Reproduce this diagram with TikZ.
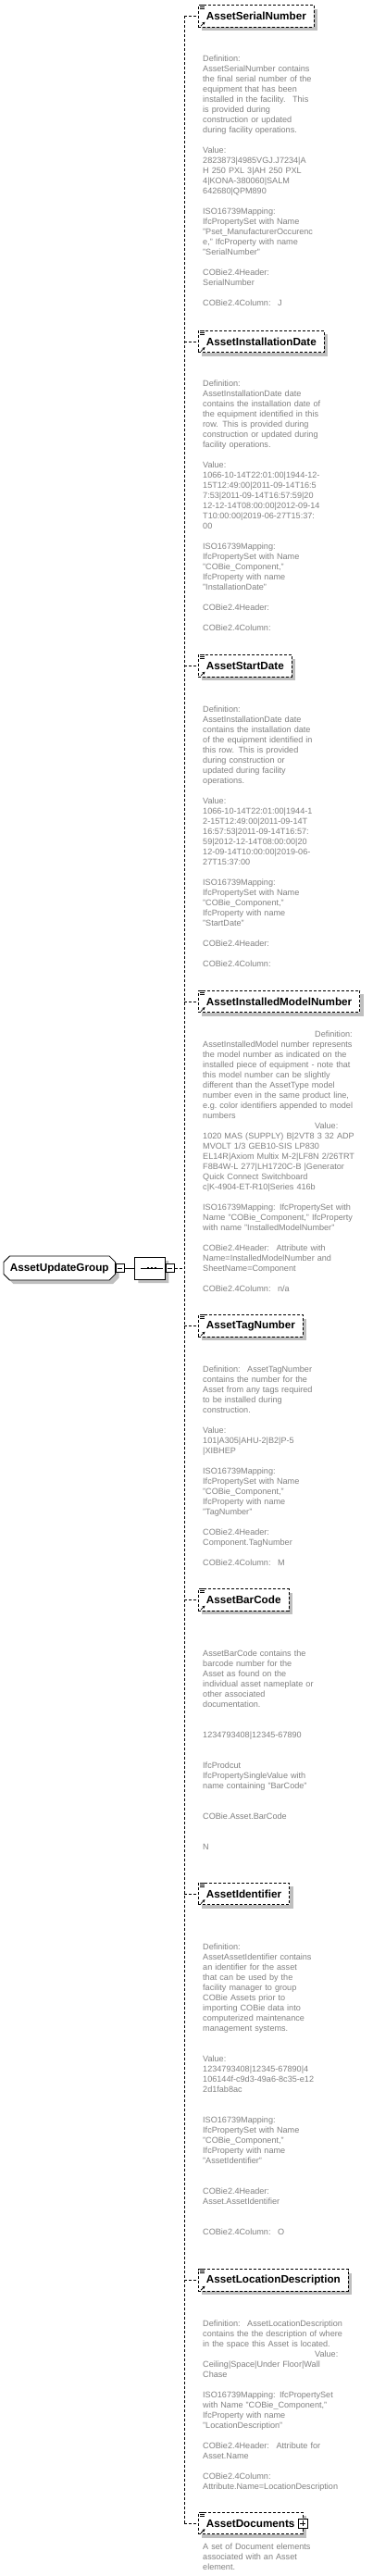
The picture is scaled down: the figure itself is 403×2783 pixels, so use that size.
\documentclass[tikz,border=0pt]{standalone}
\usepackage{fontspec}
\setmainfont{Liberation Sans}
\usetikzlibrary{shapes.misc, shadows, arrows.meta}

\begin{document}
\begin{tikzpicture}[
    x=1pt, y=-1pt,
    % Define node styles
    boxshadow/.style={
        drop shadow={shadow xshift=4pt, shadow yshift=-4pt,
                     fill=black!25, opacity=1, draw=none}
    },
    elem/.style={
        rectangle,
        draw,
        dash pattern=on 3pt off 2pt,
        line width=0.8pt,
        fill=white,
        anchor=west,
        minimum height=23.5pt,
        inner xsep=8.5pt,
        inner ysep=0pt,
        font=\bfseries\fontsize{11.7}{14}\selectfont,
        boxshadow
    },
    grp/.style={
        chamfered rectangle,
        chamfered rectangle xsep=3pt,
        draw,
        line width=0.8pt,
        fill=white,
        minimum height=26pt,
        inner xsep=4pt,
        font=\bfseries\fontsize{11.7}{14}\selectfont,
        boxshadow
    },
    compositor/.style={
        chamfered rectangle,
        chamfered rectangle xsep=3pt,
        draw,
        line width=0.8pt,
        fill=white,
        minimum width=33pt,
        minimum height=24pt,
        inner sep=0pt,
        boxshadow
    },
    minusbox/.style={
        rectangle,
        draw,
        line width=0.8pt,
        fill=white,
        minimum size=9pt,
        inner sep=0pt,
        path picture={
            \draw[line width=0.9pt] ([xshift=2pt]path picture bounding box.west)
                -- ([xshift=-2pt]path picture bounding box.east);
        }
    },
    plusbox/.style={
        minusbox,
        minimum size=10pt,
        path picture={
            \draw[line width=0.9pt] ([xshift=2pt]path picture bounding box.west)
                -- ([xshift=-2pt]path picture bounding box.east);
            \draw[line width=0.9pt] ([yshift=-2pt]path picture bounding box.north)
                -- ([yshift=2pt]path picture bounding box.south);
        }
    },
    doc/.style={
        anchor=base west,
        align=left,
        text width=178pt,
        inner sep=0pt,
        text=black!50,
        font=\fontsize{9.1}{11}\selectfont
    },
    conn/.style={draw, line width=0.8pt, dash pattern=on 3pt off 2pt},
    icon/.style={draw, line width=0.8pt}
]
    \useasboundingbox (0,0) rectangle (403,2783);

    % Group and sequence compositor
    \node[grp, anchor=east] (group) at (125,1370) {AssetUpdateGroup};
    \node[minusbox, anchor=west] (groupminus) at (group.east) {};
    \node[compositor, anchor=west] (seq) at (145,1370) {};
    \node[minusbox, anchor=west] (seqminus) at (seq.east) {};
    % Sequence symbol
    \draw[line width=0.8pt] (152,1370) -- (176,1370);
    \foreach \dx in {158.5,162.5,166.5}
        \fill (\dx,1368.7) rectangle ++(2.6,2.6);

    \draw[line width=0.8pt] (groupminus.east) -- (seq.west);
    \coordinate (spine) at (199,0);

    % Child elements
    \node[elem] (serial) at (214,17.5) {AssetSerialNumber};
    \node[elem] (instdate) at (214,369) {AssetInstallationDate};
    \node[elem] (startdate) at (214,719.5) {AssetStartDate};
    \node[elem] (model) at (214,1082) {AssetInstalledModelNumber};
    \node[elem] (tag) at (214,1432.5) {AssetTagNumber};
    \node[elem] (barcode) at (214,1728.5) {AssetBarCode};
    \node[elem] (ident) at (214,2046) {AssetIdentifier};
    \node[elem] (location) at (214,2463.5) {AssetLocationDescription};
    \node[elem] (documents) at (214,2726) {AssetDocuments\hspace{4.5pt}};
    \node[plusbox] (docplus) at (documents.east) {};

    % Connectors
    \draw[conn] (seqminus.east) -- (seqminus.east -| spine);
    \draw[conn] (serial.west -| spine) -- (documents.west -| spine);
    \foreach \e in {serial,instdate,startdate,model,tag,barcode,ident,location,documents} {
        \draw[conn] (\e.west -| spine) -- (\e.west);
        % Documentation and reference icons
        \draw[icon] ([shift={(2,0.5)}]\e.north west) -- ++(5,0)
                    ([shift={(2,2.5)}]\e.north west) -- ++(5,0)
                    ([shift={(2,4.5)}]\e.north west) -- ++(5,0);
        \draw[icon, -{Stealth[length=3pt,width=3.2pt]}]
            ([shift={(3,-1.5)}]\e.south west) -- ++(4.5,-4.5);
    }

    % Documentation texts
    \node[doc] (serialtxt) at (219,66.5) {Definition:\\
        AssetSerialNumber contains\\
        the final serial number of the\\
        equipment that has been\\
        installed in the facility.~ This\\
        is provided during\\
        construction or updated\\
        during facility operations.\\[11pt]
        Value:\\
        2823873|4985VGJ.J7234|A\\
        H 250 PXL 3|AH 250 PXL\\
        4|KONA-380060|SALM\\
        642680|QPM890\\[11pt]
        ISO16739Mapping:\\
        IfcPropertySet with Name\\
        "Pset\_ManufacturerOccurenc\\
        e," IfcProperty with name\\
        "SerialNumber"\\[11pt]
        COBie2.4Header:\\
        SerialNumber\\[11pt]
        COBie2.4Column:~ J};

    \node[doc] (instdatetxt) at (219,417.5) {Definition:\\
        AssetInstallationDate date\\
        contains the installation date of\\
        the equipment identified in this\\
        row. This is provided during\\
        construction or updated during\\
        facility operations.\\[11pt]
        Value:\\
        1066-10-14T22:01:00|1944-12-\\
        15T12:49:00|2011-09-14T16:5\\
        7:53|2011-09-14T16:57:59|20\\
        12-12-14T08:00:00|2012-09-14\\
        T10:00:00|2019-06-27T15:37:\\
        00\\[11pt]
        ISO16739Mapping:\\
        IfcPropertySet with Name\\
        "COBie\_Component,"\\
        IfcProperty with name\\
        "InstallationDate"\\[11pt]
        COBie2.4Header:\\[11pt]
        COBie2.4Column:};

    \node[doc] (startdatetxt) at (219,769.5) {Definition:\\
        AssetInstallationDate date\\
        contains the installation date\\
        of the equipment identified in\\
        this row. This is provided\\
        during construction or\\
        updated during facility\\
        operations.\\[11pt]
        Value:\\
        1066-10-14T22:01:00|1944-1\\
        2-15T12:49:00|2011-09-14T\\
        16:57:53|2011-09-14T16:57:\\
        59|2012-12-14T08:00:00|20\\
        12-09-14T10:00:00|2019-06-\\
        27T15:37:00\\[11pt]
        ISO16739Mapping:\\
        IfcPropertySet with Name\\
        "COBie\_Component,"\\
        IfcProperty with name\\
        "StartDate"\\[11pt]
        COBie2.4Header:\\[11pt]
        COBie2.4Column:};

    \node[doc] (modeltxt) at (219,1120.5) {\hspace*{121pt}Definition:\\
        AssetInstalledModel number represents\\
        the model number as indicated on the\\
        installed piece of equipment - note that\\
        this model number can be slightly\\
        different than the AssetType model\\
        number even in the same product line,\\
        e.g.\ color identifiers appended to model\\
        numbers\\
        \hspace*{121pt}Value:\\
        1020 MAS (SUPPLY) B|2VT8 3 32 ADP\\
        MVOLT 1/3 GEB10-SIS LP830\\
        EL14R|Axiom Multix M-2|LF8N 2/26TRT\\
        F8B4W-L 277|LH1720C-B |Generator\\
        Quick Connect Switchboard\\
        c|K-4904-ET-R10|Series 416b\\[11pt]
        ISO16739Mapping: IfcPropertySet with\\
        Name "COBie\_Component," IfcProperty\\
        with name "InstalledModelNumber"\\[11pt]
        COBie2.4Header:~ Attribute with\\
        Name=InstalledModelNumber and\\
        SheetName=Component\\[11pt]
        COBie2.4Column:~ n/a};

    \node[doc] (tagtxt) at (219,1482.5) {Definition:~ AssetTagNumber\\
        contains the number for the\\
        Asset from any tags required\\
        to be installed during\\
        construction.\\[11pt]
        Value:\\
        101|A305|AHU-2|B2|P-5\\
        |XIBHEP\\[11pt]
        ISO16739Mapping:\\
        IfcPropertySet with Name\\
        "COBie\_Component,"\\
        IfcProperty with name\\
        "TagNumber"\\[11pt]
        COBie2.4Header:\\
        Component.TagNumber\\[11pt]
        COBie2.4Column:~ M};

    \node[doc] (barcodetxt) at (219,1789.5) {AssetBarCode contains the\\
        barcode number for the\\
        Asset as found on the\\
        individual asset nameplate or\\
        other associated\\
        documentation.\\[22pt]
        1234793408|12345-67890\\[22pt]
        IfcProdcut\\
        IfcPropertySingleValue with\\
        name containing "BarCode"\\[22pt]
        COBie.Asset.BarCode\\[22pt]
        N};

    \node[doc] (identtxt) at (219,2106.5) {Definition:\\
        AssetAssetIdentifier contains\\
        an identifier for the asset\\
        that can be used by the\\
        facility manager to group\\
        COBie Assets prior to\\
        importing COBie data into\\
        computerized maintenance\\
        management systems.\\[22pt]
        Value:\\
        1234793408|12345-67890|4\\
        106144f-c9d3-49a6-8c35-e12\\
        2d1fab8ac\\[22pt]
        ISO16739Mapping:\\
        IfcPropertySet with Name\\
        "COBie\_Component,"\\
        IfcProperty with name\\
        "AssetIdentifier"\\[22pt]
        COBie2.4Header:\\
        Asset.AssetIdentifier\\[22pt]
        COBie2.4Column:~ O};

    \node[doc] (locationtxt) at (219,2513.5) {Definition:~ AssetLocationDescription\\
        contains the the description of where\\
        in the space this Asset is located.\\
        \hspace*{121pt}Value:\\
        Ceiling|Space|Under Floor|Wall\\
        Chase\\[11pt]
        ISO16739Mapping: IfcPropertySet\\
        with Name "COBie\_Component,"\\
        IfcProperty with name\\
        "LocationDescription"\\[11pt]
        COBie2.4Header:~ Attribute for\\
        Asset.Name\\[11pt]
        COBie2.4Column:\\
        Attribute.Name=LocationDescription};

    \node[doc] (documentstxt) at (219,2754.5) {A set of Document elements\\
        associated with an Asset\\
        element.};
\end{tikzpicture}
\end{document}
